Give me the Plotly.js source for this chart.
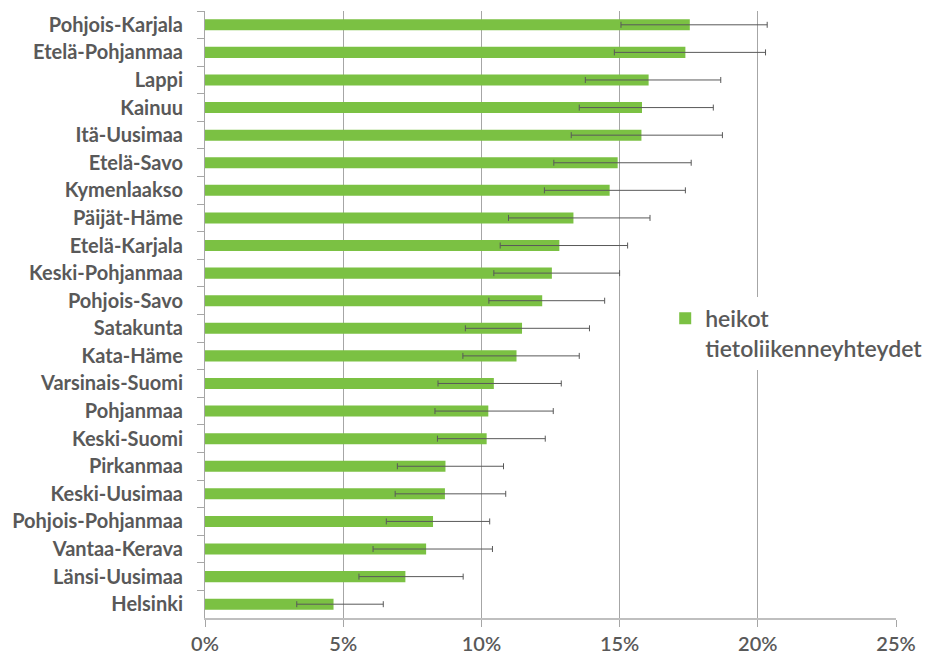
<!DOCTYPE html>
<html>
<head>
<meta charset="utf-8">
<script src="https://cdn.plot.ly/plotly-3.0.1.min.js"></script>
<style>
html,body{margin:0;padding:0;background:#fff;}
#chart{width:927px;height:658px;}
</style>
</head>
<body>
<div id="chart"></div>
<script>
const regions = ["Pohjois-Karjala","Etelä-Pohjanmaa","Lappi","Kainuu","Itä-Uusimaa","Etelä-Savo","Kymenlaakso","Päijät-Häme","Etelä-Karjala","Keski-Pohjanmaa","Pohjois-Savo","Satakunta","Kata-Häme","Varsinais-Suomi","Pohjanmaa","Keski-Suomi","Pirkanmaa","Keski-Uusimaa","Pohjois-Pohjanmaa","Vantaa-Kerava","Länsi-Uusimaa","Helsinki"];
const values = [17.54,17.38,16.05,15.81,15.79,14.93,14.64,13.33,12.82,12.55,12.20,11.47,11.27,10.45,10.25,10.19,8.70,8.68,8.25,8.00,7.25,4.65];
const lowerBounds = [15.05,14.81,13.76,13.54,13.25,12.62,12.28,10.98,10.68,10.45,10.27,9.42,9.33,8.43,8.32,8.41,6.96,6.88,6.56,6.08,5.57,3.32];
const upperBounds = [20.34,20.28,18.66,18.39,18.72,17.59,17.38,16.10,15.29,15.00,14.46,13.91,13.54,12.89,12.60,12.31,10.80,10.88,10.30,10.40,9.34,6.45];
const seriesName = "heikot<br>tietoliikenneyhteydet";
const xTicks = [0,5,10,15,20,25];
const xTickText = ["0%","5%","10%","15%","20%","25%"];

const errPlus = upperBounds.map((u,i)=>u-values[i]);
const errMinus = lowerBounds.map((l,i)=>values[i]-l);

const trace = {
  type: "bar",
  orientation: "h",
  y: regions,
  x: values,
  name: seriesName,
  marker: {color: "#7bc143", line: {width: 0}},
  error_x: {
    type: "data",
    symmetric: false,
    array: errPlus,
    arrayminus: errMinus,
    color: "#595959",
    thickness: 1,
    width: 3
  },
  showlegend: true
};

const layout = {
  width: 927,
  height: 658,
  margin: {l: 205, r: 31, t: 11, b: 40, autoexpand: false},
  paper_bgcolor: "#fff",
  plot_bgcolor: "#fff",
  bargap: 0.6,
  showlegend: true,
  font: {family: "Lato, 'Open Sans', sans-serif", color: "#595959"},
  xaxis: {
    range: [0, 25],
    tickvals: xTicks,
    ticktext: xTickText,
    showgrid: true,
    gridcolor: "#a6a6a6",
    gridwidth: 1,
    zeroline: false,
    showline: true,
    linecolor: "#bfbfbf",
    linewidth: 2,
    ticks: "outside",
    ticklen: 7,
    tickcolor: "#a6a6a6",
    tickfont: {size: 20, color: "#595959", family: "Lato, sans-serif", weight: 600},
    ticklabelstandoff: 0,
    automargin: false,
    fixedrange: true
  },
  yaxis: {
    type: "category",
    autorange: "reversed",
    showgrid: false,
    zeroline: false,
    showline: true,
    linecolor: "#a6a6a6",
    linewidth: 1,
    ticks: "outside",
    tickson: "boundaries",
    ticklen: 7,
    tickcolor: "#a6a6a6",
    tickfont: {size: 20, color: "#595959", family: "Lato, sans-serif", weight: "bold"},
    ticklabelstandoff: 17,
    automargin: false,
    fixedrange: true
  },
  legend: {
    x: 0.666,
    y: 0.529,
    xanchor: "left",
    yanchor: "top",
    bgcolor: "#fff",
    borderwidth: 0,
    valign: "top",
    font: {size: 23, color: "#595959", family: "Lato, sans-serif", weight: 600},
    itemwidth: 30
  }
};

Plotly.newPlot("chart", [trace], layout, {displayModeBar: false, staticPlot: true});
</script>
</body>
</html>
